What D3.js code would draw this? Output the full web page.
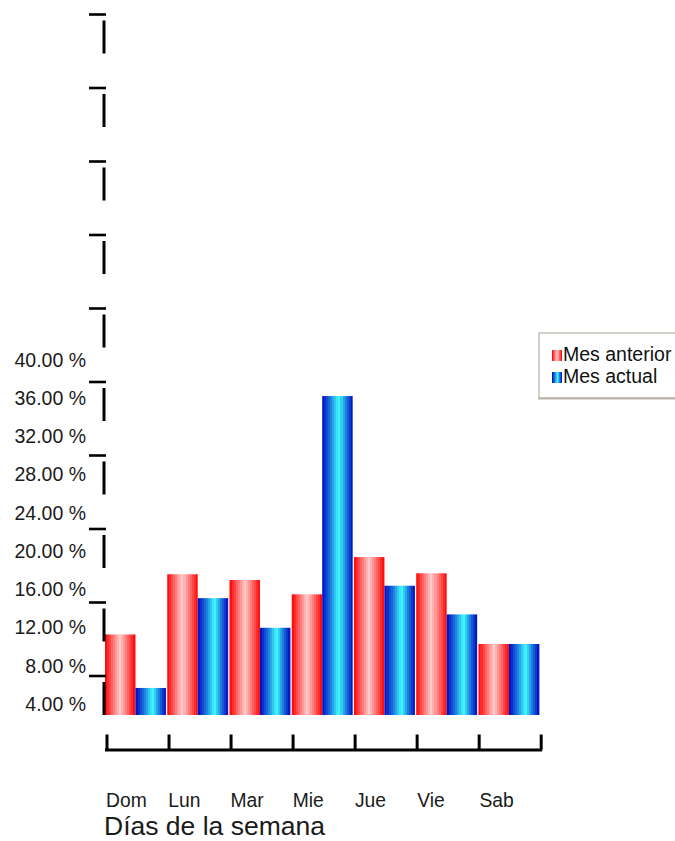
<!DOCTYPE html>
<html>
<head>
<meta charset="utf-8">
<script src="https://cdn.jsdelivr.net/npm/d3@7"></script>
<style>
  html, body { margin: 0; padding: 0; background: #ffffff; }
  svg { display: block; font-family: "Liberation Sans", Arial, Helvetica, sans-serif; }
</style>
</head>
<body>
<svg id="chart" width="675" height="841"></svg>
<script>
// ---- data ----
const categories = ["Dom", "Lun", "Mar", "Mie", "Jue", "Vie", "Sab"];
const seriesNames = ["Mes anterior", "Mes actual"];
const mesAnterior = [10.0, 16.3, 15.7, 14.2, 18.1, 16.4, 9.0];
const mesActual   = [4.4, 13.8, 10.7, 34.95, 15.1, 12.1, 9.0];
const yTickValues = [4, 8, 12, 16, 20, 24, 28, 32, 36, 40];
const yTickLabels = ["4.00 %", "8.00 %", "12.00 %", "16.00 %", "20.00 %", "24.00 %", "28.00 %", "32.00 %", "36.00 %", "40.00 %"];
const axisMarks = d3.range(10);          // decorative dashed axis marks
const xAxisTitle = "Días de la semana";

// ---- layout ----
const svg = d3.select("#chart");
const plotLeft = 105, plotRight = 540.7, plotBottom = 715;

const y = d3.scaleLinear().domain([0, 40]).range([730, 347.8]);
const x0 = d3.scaleBand().domain(categories).range([plotLeft, plotRight]).paddingInner(0).paddingOuter(0);
const x1 = d3.scaleBand().domain(seriesNames).range([0, x0.step() - 1.3]);
const color = d3.scaleOrdinal().domain(seriesNames).range(["url(#gradRed)", "url(#gradBlue)"]);

// ---- gradients (banded) ----
const defs = svg.append("defs");
function banded(id, edge, mid, center, centerPos, n) {
  const g = defs.append("linearGradient").attr("id", id)
    .attr("x1", "0%").attr("x2", "100%").attr("y1", "0%").attr("y2", "0%");
  const colAt = t => {
    if (t > 0.5) return d3.interpolateRgb(mid, edge)((t - 0.5) / 0.5);
    return d3.interpolateRgb(center, mid)(t / 0.5);
  };
  for (let i = 0; i < n; i++) {
    const a = i / n, b = (i + 1) / n, m = (a + b) / 2;
    const dist = m < centerPos ? (centerPos - m) / centerPos : (m - centerPos) / (1 - centerPos);
    const c = colAt(Math.min(1, dist));
    g.append("stop").attr("offset", (a * 100) + "%").attr("stop-color", c);
    g.append("stop").attr("offset", (b * 100) + "%").attr("stop-color", c);
  }
}
banded("gradRed", "#ff0000", "#ff6a6a", "#ffcaca", 0.5, 15);
banded("gradBlue", "#0008c4", "#1c78dc", "#40ffff", 0.55, 15);

// ---- bars ----
const rows = categories.map((c, i) => ({ cat: c, vals: [
  { s: seriesNames[0], v: mesAnterior[i] },
  { s: seriesNames[1], v: mesActual[i] }
]}));

const groups = svg.append("g").selectAll("g").data(rows).join("g")
  .attr("transform", d => `translate(${x0(d.cat)},0)`);
groups.selectAll("rect").data(d => d.vals).join("rect")
  .attr("x", d => x1(d.s))
  .attr("width", x1.bandwidth())
  .attr("y", d => y(d.v))
  .attr("height", d => plotBottom - y(d.v))
  .attr("fill", d => color(d.s));

// ---- dashed y axis with marks ----
const markScale = d3.scaleLinear().domain([0, 9]).range([676, 14.5]);
svg.append("line")
  .attr("x1", 104).attr("x2", 104)
  .attr("y1", plotBottom).attr("y2", markScale(9))
  .attr("stroke", "#000").attr("stroke-width", 3)
  .attr("stroke-dasharray", "33 40.5");
svg.append("g").selectAll("line").data(axisMarks).join("line")
  .attr("x1", 89).attr("x2", 106)
  .attr("y1", d => markScale(d)).attr("y2", d => markScale(d))
  .attr("stroke", "#000").attr("stroke-width", 2.6);

// ---- y labels ----
svg.append("g").selectAll("text").data(yTickValues).join("text")
  .attr("x", 86)
  .attr("y", d => y(d) + 19)
  .attr("text-anchor", "end")
  .attr("font-size", 19.5)
  .attr("fill", "#1a1a1a")
  .text((d, i) => yTickLabels[i]);

// ---- x axis ----
const idx = d3.scaleLinear().domain([0, categories.length]).range([plotLeft + 1.5, plotRight]);
const xAxis = svg.append("g")
  .attr("transform", `translate(0,${749.5})`)
  .call(d3.axisBottom(idx).tickValues(d3.range(categories.length + 1)).tickSize(-15).tickSizeOuter(0).tickFormat(""));
xAxis.select(".domain").attr("stroke", "#000").attr("stroke-width", 3)
  .attr("d", `M${plotLeft},0.5H${plotRight + 1.5}`);
xAxis.selectAll(".tick line").attr("stroke", "#000").attr("stroke-width", 3);

// category labels
svg.append("g").selectAll("text").data(categories).join("text")
  .attr("x", d => x0(d) + 1)
  .attr("y", 807)
  .attr("font-size", 19.3)
  .attr("fill", "#1a1a1a")
  .text(d => d);

// axis title
svg.append("text")
  .attr("x", 104).attr("y", 835)
  .attr("font-size", 26.5)
  .attr("fill", "#1a1a1a")
  .text(xAxisTitle);

// ---- legend ----
const lg = svg.append("g");
lg.append("rect").attr("x", 539).attr("y", 333).attr("width", 150).attr("height", 65)
  .attr("fill", "#fff").attr("stroke", "#d4d0c8").attr("stroke-width", 2);
lg.append("line").attr("x1", 538).attr("x2", 675).attr("y1", 398.5).attr("y2", 398.5)
  .attr("stroke", "#b8b4aa").attr("stroke-width", 2);
const li = lg.selectAll("g.item").data(seriesNames).join("g").attr("class", "item")
  .attr("transform", (d, i) => `translate(552,${350 + i * 22})`);
li.append("rect").attr("width", 10).attr("height", 11).attr("fill", d => color(d));
li.append("text").attr("x", 11).attr("y", 11.3).attr("font-size", 19.5).attr("fill", "#111").text(d => d);
</script>
</body>
</html>
